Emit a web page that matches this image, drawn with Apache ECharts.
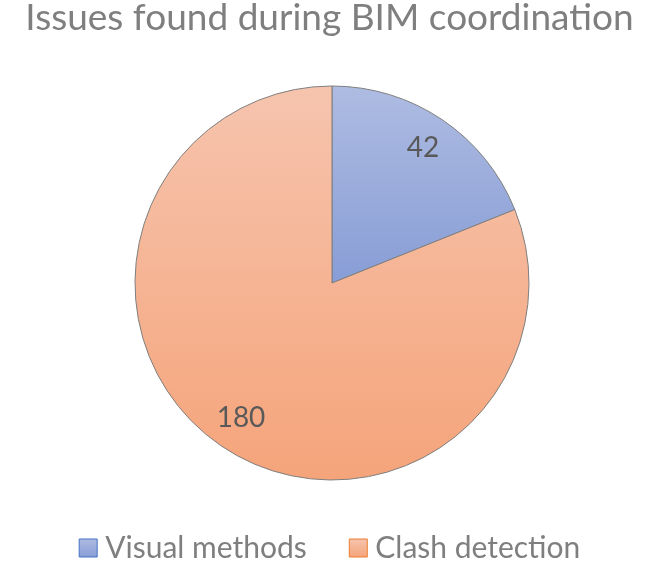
<!DOCTYPE html>
<html>
<head>
<meta charset="utf-8">
<script src="https://cdn.jsdelivr.net/npm/echarts@6/dist/echarts.min.js"></script>
<style>
  html, body { margin: 0; padding: 0; background: #fff; }
  #chart { width: 659px; height: 570px; }
</style>
</head>
<body>
<div id="chart"></div>
<script>
// data
const categories = ['Visual methods', 'Clash detection'];
const values = [42, 180];

const fills = [
  ['#aebce2', '#889dd6'],
  ['#f6c4ae', '#f5a47a']
];
const borders = ['#4472c4', '#ed7d31'];

let chart = echarts.init(document.getElementById('chart'));

const grad = (c) => ({
  type: 'linear', x: 0, y: 0, x2: 0, y2: 1,
  colorStops: [{offset: 0, color: c[0]}, {offset: 1, color: c[1]}]
});

const pieData = categories.map((name, i) => ({
  name: name,
  value: values[i],
  itemStyle: {color: grad(fills[i])}
}));

chart.setOption({
  animation: false,
  title: {
    text: 'Issues found during BIM coordination',
    left: 'center',
    top: -5,
    textStyle: {
      fontFamily: 'Lato',
      fontWeight: 'normal',
      fontSize: 37,
      color: '#7f7f7f'
    }
  },
  legend: {
    bottom: 2,
    left: 'center',
    itemWidth: 18,
    itemHeight: 18,
    itemGap: 42,
    icon: 'rect',
    textStyle: {
      fontFamily: 'Lato',
      fontSize: 30,
      color: '#7f7f7f',
      padding: [0, 0, 0, 3]
    },
    data: categories.map((name, i) => ({
      name: name,
      itemStyle: {color: grad(fills[i]), borderColor: borders[i], borderWidth: 1}
    }))
  },
  series: [
    {
      name: 'Issues',
      type: 'pie',
      center: [332, 283],
      radius: [0, 197],
      startAngle: 90,
      clockwise: true,
      itemStyle: {borderColor: '#7f7f7f', borderWidth: 1},
      label: {show: false},
      labelLine: {show: false},
      emphasis: {disabled: true},
      data: pieData
    },
    {
      // transparent ring only used to place the value labels further out
      name: 'labels',
      type: 'pie',
      center: [332, 283],
      radius: [122, 197],
      startAngle: 90,
      clockwise: true,
      silent: true,
      itemStyle: {color: 'rgba(0,0,0,0)', borderWidth: 0},
      label: {
        show: true,
        position: 'inside',
        formatter: '{c}',
        fontFamily: 'Lato',
        fontSize: 28,
        color: '#595959'
      },
      labelLine: {show: false},
      emphasis: {disabled: true},
      legendHoverLink: false,
      data: categories.map((name, i) => ({name: name, value: values[i]}))
    }
  ]
});
</script>
</body>
</html>
